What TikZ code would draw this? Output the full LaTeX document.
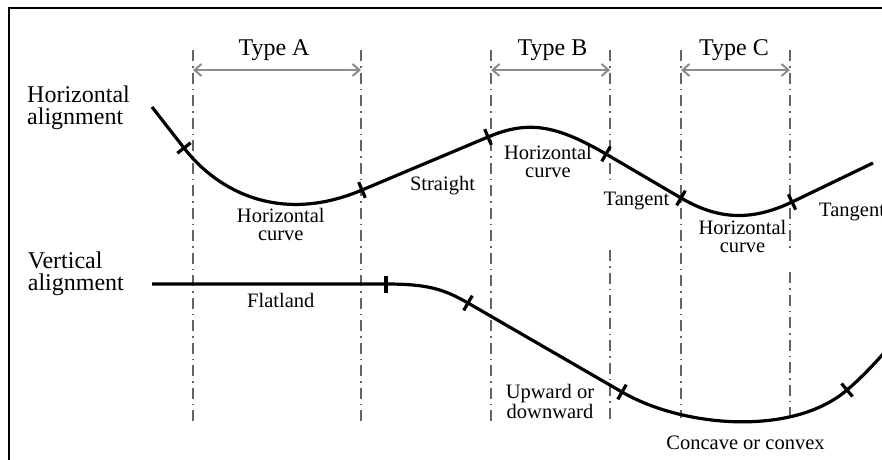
\documentclass[tikz,border=0pt]{standalone}
\usepackage{fontspec}
\setmainfont{Liberation Serif}
\usetikzlibrary{arrows.meta}
\definecolor{guidegray}{RGB}{100,100,100}
\definecolor{arrowgray}{RGB}{140,140,140}
\begin{document}
\begin{tikzpicture}[x=1pt,y=-1pt,
  road/.style={line width=3.2pt, line join=round},
  tickmark/.style={sloped, fill=black, draw=none, inner sep=0pt, minimum width=3.2pt, minimum height=17pt},
  guide/.style={draw=guidegray, line width=1.8pt, dash pattern=on 11pt off 5pt on 1.5pt off 5pt},
  span/.style={draw=arrowgray, line width=2pt, {Straight Barb[length=7pt,width=12pt]}-{Straight Barb[length=7pt,width=12pt]}},
  big/.style={font=\fontsize{24}{22}\selectfont, inner sep=0pt},
  small/.style={font=\fontsize{20.5}{18}\selectfont, inner sep=0pt, align=center},
]
\useasboundingbox (0,0) rectangle (882,459);
% frame
\draw[line width=2pt] (9,470) -- (9,8) -- (900,8);

% guide lines
\coordinate (gAt) at (193,50);  \coordinate (gAb) at (193,421);
\coordinate (gBt) at (361,50);  \coordinate (gBb) at (361,421);
\coordinate (gCt) at (491,50);  \coordinate (gCb) at (491,421);
\coordinate (gDt) at (610,50);  \coordinate (gDm) at (610,183);
\coordinate (gDn) at (610,250); \coordinate (gDb) at (610,421);
\coordinate (gEt) at (681,50);  \coordinate (gEb) at (681,418);
\coordinate (gFt) at (790,50);  \coordinate (gFm) at (790,250);
\coordinate (gFn) at (790,272); \coordinate (gFb) at (790,418);
\draw[guide] (gAt) -- (gAb);
\draw[guide] (gBt) -- (gBb);
\draw[guide] (gCt) -- (gCb);
\draw[guide] (gDt) -- (gDm);
\draw[guide] (gDn) -- (gDb);
\draw[guide] (gEt) -- (gEb);
\draw[guide] (gFt) -- (gFm);
\draw[guide] (gFn) -- (gFb);

% span arrows
\coordinate (aA1) at (193,70); \coordinate (aA2) at (361,70);
\coordinate (aB1) at (491,70); \coordinate (aB2) at (610,70);
\coordinate (aC1) at (681,70); \coordinate (aC2) at (790,70);
\draw[span] (aA1) -- (aA2);
\draw[span] (aB1) -- (aB2);
\draw[span] (aC1) -- (aC2);

\node[big, anchor=base] (typeA) at (274,55) {Type A};
\node[big, anchor=base] (typeB) at (552.5,55) {Type B};
\node[big, anchor=base] (typeC) at (734,55) {Type C};

\node[big, anchor=base west, align=left] (ha) at (27,124.5) {Horizontal\\alignment};
\node[big, anchor=base west, align=left] (va) at (27.7,290) {Vertical\\alignment};

% horizontal alignment curve
\draw[road] (152,107) -- (184,148) node[tickmark,pos=1] (t1) {}
  .. controls (219,193) and (282,224) .. (362,190) node[tickmark,pos=1] (t2) {}
  -- (488,137) node[tickmark,pos=1] (t3) {}
  .. controls (528,120) and (556,125) .. (606,154) node[tickmark,pos=1] (t4) {}
  -- (681,198) node[tickmark,pos=1] (t5) {}
  .. controls (717,219) and (750,222) .. (792,202) node[tickmark,pos=1] (t6) {}
  -- (873,163);

% vertical alignment curve
\draw[road] (152,284) -- (386,284) node[tickmark,pos=1] (v1) {}
  .. controls (426,284) and (443,288.5) .. (468,303) node[tickmark,pos=1] (v2) {}
  -- (622,392) node[tickmark,pos=1] (v3) {}
  .. controls (682,427) and (792,437) .. (847,390) node[tickmark,pos=1] (v4) {}
  .. controls (864,375.5) and (880,358) .. (895,340);

% labels
\node[small, anchor=base] (lA) at (280.8,240.7) {Horizontal\\curve};
\node[small, anchor=base] (lS) at (442.5,190) {Straight};
\node[small, anchor=base] (lB) at (548,177) {Horizontal\\curve};
\node[small, anchor=base] (lT1) at (636.5,205) {Tangent};
\node[small, anchor=base west] (lT2) at (819,216) {Tangent};
\node[small, anchor=base] (lC) at (742.5,252) {Horizontal\\curve};
\node[small, anchor=base] (lF) at (280.8,307) {Flatland};
\node[small, anchor=base] (lU) at (550,418) {Upward or\\downward};
\node[small, anchor=base] (lCC) at (745.5,449) {Concave or convex};
\end{tikzpicture}
\end{document}
